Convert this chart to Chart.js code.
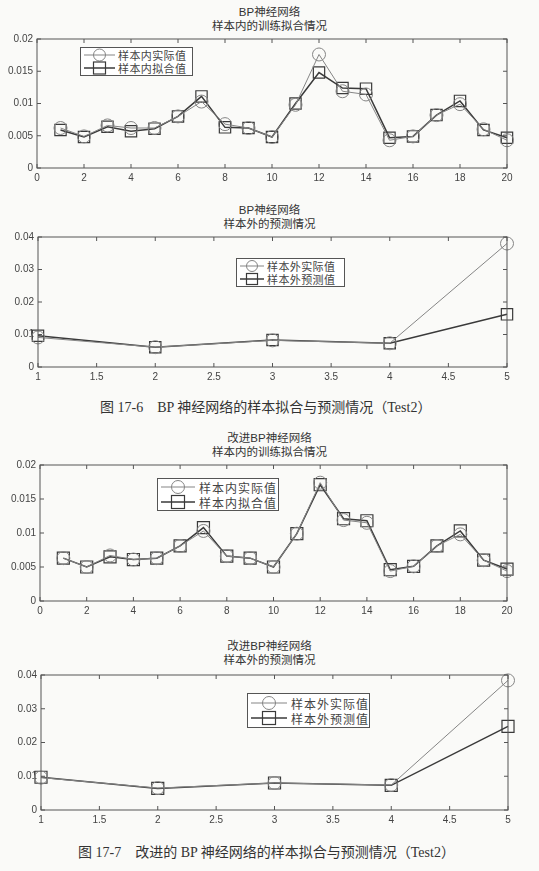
<!DOCTYPE html>
<html lang="zh">
<head>
<meta charset="UTF-8">
<title>BP神经网络的样本拟合与预测情况</title>
<script src="https://cdn.jsdelivr.net/npm/chart.js@4.4.1/dist/chart.umd.min.js"></script>
<style>
    body {
        margin: 0;
        width: 539px;
        height: 871px;
        position: relative;
        overflow: hidden;
        background: #fafaf8;
        font-family: "Liberation Sans", "Noto Sans CJK SC", sans-serif;
        color: #333;
    }
    .box { position: absolute; }
    .title {
        position: absolute;
        left: 0;
        width: 539px;
        text-align: center;
        font-size: 11.5px;
        line-height: 14px;
        color: #333;
    }
    .legend {
        position: absolute;
        box-sizing: border-box;
        border: 1px solid #555;
        background: #fff;
        display: flex;
        flex-direction: column;
        justify-content: center;
        color: #444;
    }
    .legend .row { display: flex; align-items: center; }
    .legend svg { flex: none; }
    .caption {
        position: absolute;
        font-family: "Liberation Serif", "Noto Sans CJK SC", serif;
        font-size: 14px;
        color: #333;
        white-space: pre;
    }
</style>
</head>
<body>

<div class="title" style="top:5px">BP神经网络<br>样本内的训练拟合情况</div>
<div class="box" style="left:0;top:29px;width:517px;height:157px"><canvas id="c1"></canvas></div>
<div class="legend" id="lg1" style="left:80px;top:47px;width:113px;height:29px;font-size:11px"></div>

<div class="title" style="top:203px">BP神经网络<br>样本外的预测情况</div>
<div class="box" style="left:0;top:227px;width:517px;height:158px"><canvas id="c2"></canvas></div>
<div class="legend" id="lg2" style="left:236px;top:258px;width:109px;height:29px;font-size:11px"></div>

<div class="caption" style="left:100px;top:396px">图 17-6　BP 神经网络的样本拟合与预测情况（Test2）</div>

<div class="title" style="top:431px">改进BP神经网络<br>样本内的训练拟合情况</div>
<div class="box" style="left:0;top:455px;width:517px;height:164px"><canvas id="c3"></canvas></div>
<div class="legend" id="lg3" style="left:157px;top:478px;width:122px;height:33px;font-size:12px"></div>

<div class="title" style="top:639px">改进BP神经网络<br>样本外的预测情况</div>
<div class="box" style="left:0;top:665px;width:518px;height:163px"><canvas id="c4"></canvas></div>
<div class="legend" id="lg4" style="left:247px;top:693px;width:123px;height:35px;font-size:12px"></div>

<div class="caption" style="left:78px;top:841px">图 17-7　改进的 BP 神经网络的样本拟合与预测情况（Test2）</div>

<script>
// in-sample points 1..20, out-of-sample points 1..5
const trainX = [1, 2, 3, 4, 5, 6, 7, 8, 9, 10, 11, 12, 13, 14, 15, 16, 17, 18, 19, 20];
const predX = [1, 2, 3, 4, 5];

// Fig 17-6, BP network
const bpTrainActual = [0.0062, 0.0049, 0.0066, 0.0062, 0.0062, 0.0080, 0.0103, 0.0068, 0.0062, 0.0048,
                       0.0098, 0.0176, 0.0119, 0.0114, 0.0043, 0.0049, 0.0082, 0.0099, 0.0060, 0.0043];
const bpTrainFit    = [0.0059, 0.0048, 0.0064, 0.0057, 0.0061, 0.0080, 0.0111, 0.0063, 0.0062, 0.0048,
                       0.0100, 0.0148, 0.0124, 0.0123, 0.0047, 0.0049, 0.0082, 0.0104, 0.0059, 0.0047];
const bpPredActual   = [0.0091, 0.0061, 0.0082, 0.0073, 0.0380];
const bpPredForecast = [0.0096, 0.0061, 0.0083, 0.0073, 0.0162];

// Fig 17-7, improved BP network
const impTrainActual = [0.0063, 0.0050, 0.0067, 0.0061, 0.0063, 0.0081, 0.0103, 0.0066, 0.0063, 0.0050,
                        0.0099, 0.0174, 0.0119, 0.0115, 0.0044, 0.0051, 0.0081, 0.0098, 0.0060, 0.0044];
const impTrainFit    = [0.0063, 0.0050, 0.0065, 0.0061, 0.0063, 0.0081, 0.0108, 0.0066, 0.0063, 0.0050,
                        0.0099, 0.0171, 0.0121, 0.0118, 0.0046, 0.0051, 0.0081, 0.0103, 0.0060, 0.0047];
const impPredActual   = [0.0096, 0.0065, 0.0080, 0.0074, 0.0384];
const impPredForecast = [0.0097, 0.0064, 0.0080, 0.0073, 0.0248];

const trainLabels = ['样本内实际值', '样本内拟合值'];
const predLabels = ['样本外实际值', '样本外预测值'];

const actualColor = '#858585';
const fitColor = '#3a3a3a';

// matlab style box with inward ticks on all four sides
const framePlugin = {
    id: 'frame',
    afterDraw(chart) {
        const {ctx, chartArea: a, scales} = chart;
        ctx.save();
        ctx.strokeStyle = '#555';
        ctx.lineWidth = 1;
        ctx.strokeRect(a.left, a.top, a.right - a.left, a.bottom - a.top);
        ctx.beginPath();
        scales.x.ticks.forEach(t => {
            const px = scales.x.getPixelForValue(t.value);
            ctx.moveTo(px, a.bottom); ctx.lineTo(px, a.bottom - 4);
            ctx.moveTo(px, a.top); ctx.lineTo(px, a.top + 4);
        });
        scales.y.ticks.forEach(t => {
            const py = scales.y.getPixelForValue(t.value);
            ctx.moveTo(a.left, py); ctx.lineTo(a.left + 4, py);
            ctx.moveTo(a.right, py); ctx.lineTo(a.right - 4, py);
        });
        ctx.stroke();
        ctx.restore();
    }
};

function fmt(v) {
    return String(parseFloat(Number(v).toFixed(4)));
}

function makeChart(id, xs, actual, fit, labels, xMin, xMax, xStep, yMax, yStep, yWidth, big) {
    const toPts = arr => arr.map((v, i) => ({x: xs[i], y: v}));
    return new Chart(document.getElementById(id), {
        type: 'line',
        data: {
            datasets: [{
                label: labels[0],
                data: toPts(actual),
                borderColor: actualColor,
                borderWidth: 1,
                pointStyle: 'circle',
                pointRadius: 6.5,
                pointBorderColor: actualColor,
                pointBorderWidth: 1,
                pointBackgroundColor: 'rgba(0,0,0,0)',
                clip: false
            }, {
                label: labels[1],
                data: toPts(fit),
                borderColor: fitColor,
                borderWidth: 1.5,
                pointStyle: 'rect',
                pointRadius: big ? 8.5 : 8,
                pointBorderColor: fitColor,
                pointBorderWidth: 1.2,
                pointBackgroundColor: 'rgba(0,0,0,0)',
                clip: false
            }]
        },
        options: {
            responsive: true,
            maintainAspectRatio: false,
            animation: false,
            events: [],
            layout: { padding: { top: 8, right: 10, left: 0, bottom: 0 } },
            plugins: { legend: { display: false }, title: { display: false }, tooltip: { enabled: false } },
            scales: {
                x: {
                    type: 'linear',
                    min: xMin, max: xMax,
                    grid: { display: false, drawTicks: false },
                    border: { display: false },
                    ticks: {
                        stepSize: xStep,
                        padding: 4,
                        maxRotation: 0,
                        color: '#444',
                        font: { family: 'Liberation Sans', size: 10 },
                        callback: fmt
                    },
                    afterFit(s) { s.height = 18; }
                },
                y: {
                    min: 0, max: yMax,
                    grid: { display: false, drawTicks: false },
                    border: { display: false },
                    ticks: {
                        stepSize: yStep,
                        padding: 4,
                        color: '#444',
                        font: { family: 'Liberation Sans', size: 10 },
                        callback: fmt
                    },
                    afterFit(s) { s.width = yWidth; }
                }
            }
        },
        plugins: [framePlugin]
    });
}

function legendIcon(kind, w, r) {
    const c = kind === 'circle' ? actualColor : fitColor;
    const lw = kind === 'circle' ? 1 : 1.5;
    const mid = w / 2;
    const mark = kind === 'circle'
        ? `<circle cx="${mid}" cy="8" r="${r}" fill="none" stroke="${c}" stroke-width="1"/>`
        : `<rect x="${mid - r}" y="${8 - r}" width="${2 * r}" height="${2 * r}" fill="none" stroke="${c}" stroke-width="1.2"/>`;
    return `<svg width="${w}" height="16"><line x1="1" y1="8" x2="${w - 1}" y2="8" stroke="${c}" stroke-width="${lw}"/>${mark}</svg>`;
}

function buildLegend(id, labels, iconW, r, gap, spacing, rowH) {
    const el = document.getElementById(id);
    el.innerHTML = labels.map((t, i) =>
        `<div class="row" style="height:${rowH}px;padding-left:2px">${legendIcon(i === 0 ? 'circle' : 'rect', iconW, r)}` +
        `<span style="margin-left:${gap}px;letter-spacing:${spacing}px">${t}</span></div>`
    ).join('');
}

makeChart('c1', trainX, bpTrainActual, bpTrainFit, trainLabels, 0, 20, 2, 0.02, 0.005, 37, false);
makeChart('c2', predX, bpPredActual, bpPredForecast, predLabels, 1, 5, 0.5, 0.04, 0.01, 38, false);
makeChart('c3', trainX, impTrainActual, impTrainFit, trainLabels, 0, 20, 2, 0.02, 0.005, 40, true);
makeChart('c4', predX, impPredActual, impPredForecast, predLabels, 1, 5, 0.5, 0.04, 0.01, 41, true);

buildLegend('lg1', trainLabels, 33, 6, 2, 0.4, 13);
buildLegend('lg2', predLabels, 26, 5.5, 2, 0.4, 13);
buildLegend('lg3', trainLabels, 36, 6.5, 3, 1, 15);
buildLegend('lg4', predLabels, 38, 6.5, 3, 1, 15);
</script>
</body>
</html>
